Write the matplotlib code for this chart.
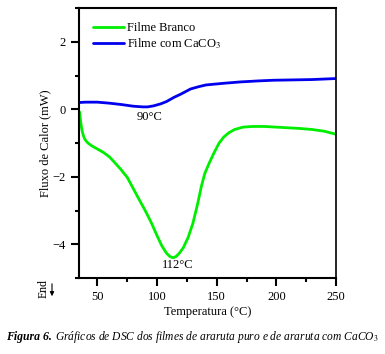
import matplotlib
matplotlib.use('Agg')
import matplotlib.pyplot as plt
from matplotlib.ticker import MultipleLocator
from matplotlib.patches import FancyArrowPatch

plt.rcParams['font.family'] = 'Liberation Serif'
plt.rcParams['mathtext.fontset'] = 'stix'

# DSC curves
temp_branco = [35, 36, 37, 38, 39, 40, 42, 45, 50, 55, 60, 65, 70, 75, 80, 85, 90, 95, 100,
               104, 108, 111, 113.5, 116, 119, 122, 126, 130, 134, 137, 140, 144, 148, 152,
               156, 160, 165, 172, 180, 190, 200, 210, 220, 230, 240, 250]
fluxo_branco = [-0.08, -0.4, -0.62, -0.76, -0.86, -0.92, -1.0, -1.08, -1.18, -1.28, -1.41,
                -1.6, -1.8, -2.02, -2.35, -2.68, -3.0, -3.35, -3.75, -4.05, -4.27, -4.37,
                -4.4, -4.36, -4.25, -4.1, -3.8, -3.38, -2.8, -2.3, -1.9, -1.57, -1.27, -1.0,
                -0.82, -0.7, -0.6, -0.53, -0.51, -0.51, -0.53, -0.55, -0.57, -0.6, -0.65,
                -0.74]
temp_caco3 = [35, 40, 50, 60, 70, 80, 88, 92, 97, 103, 108, 114, 120, 128, 135, 141, 150,
              156, 170, 185, 198, 215, 230, 250]
fluxo_caco3 = [0.2, 0.21, 0.21, 0.18, 0.14, 0.09, 0.07, 0.07, 0.1, 0.16, 0.23, 0.35, 0.45,
               0.6, 0.67, 0.72, 0.75, 0.77, 0.81, 0.84, 0.86, 0.87, 0.88, 0.91]

labels = ['Filme Branco', r'Filme com CaCO$_3$']

fig = plt.figure(figsize=(3.85, 3.54), dpi=100)
ax = fig.add_axes([79 / 385, 1 - 278 / 354, (336 - 79) / 385, (278 - 8) / 354])

ax.plot(temp_branco, fluxo_branco, color='#00ee00', lw=2.0, label=labels[0],
        solid_joinstyle='round', solid_capstyle='round')
ax.plot(temp_caco3, fluxo_caco3, color='#0000ee', lw=2.0, label=labels[1],
        solid_joinstyle='round', solid_capstyle='round')

ax.set_xlim(34.5, 250)
ax.set_ylim(-5, 3)
ax.set_xticks([50, 100, 150, 200, 250])
ax.set_yticks([2, 0, -2, -4])
ax.xaxis.set_minor_locator(MultipleLocator(25))
ax.yaxis.set_minor_locator(MultipleLocator(1))
ax.tick_params(which='major', direction='out', length=6, width=1.5, labelsize=9)
ax.tick_params(which='minor', direction='out', length=3, width=1.5)
for s in ax.spines.values():
    s.set_linewidth(1.5)
ax.spines['right'].set_linewidth(1.2)

ax.set_xlabel('Temperatura (°C)', fontsize=9, labelpad=2)
ax.set_ylabel('Fluxo de Calor (mW)', fontsize=9, labelpad=1)

ax.text(94, -0.22, '90°C', fontsize=9, ha='center', va='center')
ax.text(117, -4.6, '112°C', fontsize=9, ha='center', va='center')

ax.legend(loc='upper left', bbox_to_anchor=(0.01, 0.99), frameon=False, fontsize=9,
          handlelength=2.5, handletextpad=0.2, labelspacing=0.2, borderaxespad=0.5)

# "End" marker with down arrow
fig.text(44 / 385, 1 - 289 / 354, 'End', rotation=90, fontsize=8.5, ha='center', va='center')
fig.add_artist(FancyArrowPatch(
    (52 / 385, 1 - 281 / 354), (52 / 385, 1 - 299 / 354), transform=fig.transFigure,
    arrowstyle='-|>', mutation_scale=6, lw=0.8, color='black'))

# caption
t1 = fig.text(6 / 385, 1 - 337 / 354, 'Figura 6.', fontsize=8.5, fontweight='bold',
              style='italic', va='center', ha='left')
fig.canvas.draw()
bb = t1.get_window_extent()
fig.text((bb.x1 + 3) / 385, 1 - 337 / 354,
         r'Gráficos de DSC dos filmes de araruta puro e de araruta com CaCO$_3$',
         fontsize=8.3, style='italic', va='center', ha='left')

fig.savefig('out.png', dpi=100)
